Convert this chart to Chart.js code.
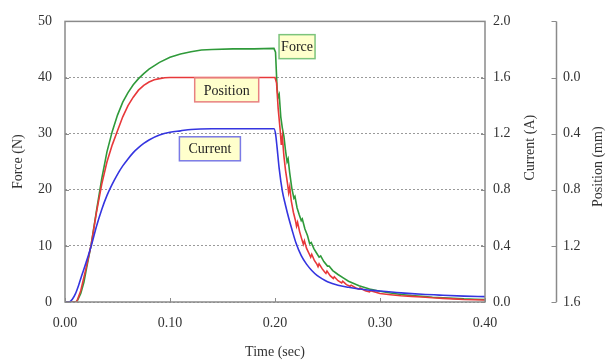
<!DOCTYPE html>
<html>
<head>
<meta charset="utf-8">
<script src="https://cdn.jsdelivr.net/npm/chart.js@4.4.1/dist/chart.umd.min.js"></script>
<style>html,body{margin:0;padding:0;background:#fff}</style>
</head>
<body>
<canvas id="chart" width="608" height="361"></canvas>
<script>
// time (sec) / force (N)
const forceTime = [0, 0.010, 0.012, 0.015, 0.018, 0.020, 0.025, 0.030, 0.035, 0.040, 0.045, 0.050, 0.055, 0.060, 0.065, 0.070, 0.075, 0.080, 0.090, 0.100, 0.110, 0.120, 0.130, 0.140, 0.160, 0.180, 0.199,
  0.2005, 0.2020, 0.2030, 0.2040, 0.2055, 0.2070, 0.2085, 0.2100, 0.2115, 0.2125, 0.2140, 0.2160, 0.2180, 0.2190, 0.2210, 0.2230, 0.2250, 0.2260, 0.2285, 0.2310, 0.2330, 0.2345, 0.2370, 0.2400, 0.2420, 0.2435, 0.2465, 0.2500, 0.2515, 0.2550, 0.2600, 0.2650, 0.2700, 0.2750, 0.2800, 0.2900, 0.3000, 0.3100, 0.3200, 0.3300, 0.3400, 0.3500, 0.3600, 0.3700, 0.3800, 0.3900, 0.4000];
const forceN = [0, 0, 0.3, 1.5, 3.5, 5.5, 10.3, 16.3, 22.0, 26.8, 30.4, 33.3, 35.6, 37.3, 38.7, 39.8, 40.7, 41.5, 42.7, 43.6, 44.2, 44.6, 44.9, 45.0, 45.1, 45.1, 45.2,
  44.5, 38.0, 36.5, 37.0, 33.0, 31.0, 29.5, 27.0, 25.0, 25.5, 23.0, 20.3, 18.5, 18.8, 16.8, 15.6, 14.5, 14.8, 13.0, 11.8, 10.4, 10.6, 9.5, 8.6, 8.0, 8.2, 7.2, 6.4, 6.4, 5.6, 4.9, 4.3, 3.7, 3.3, 2.9, 2.3, 1.9, 1.6, 1.35, 1.15, 1.0, 0.85, 0.75, 0.65, 0.55, 0.5, 0.45];

// time (sec) / position (mm)
const positionTime = [0, 0.011, 0.015, 0.020, 0.025, 0.030, 0.035, 0.040, 0.045, 0.050, 0.055, 0.060, 0.065, 0.070, 0.075, 0.080, 0.085, 0.090, 0.095, 0.100, 0.150, 0.2000,
  0.2015, 0.2030, 0.2050, 0.2060, 0.2070, 0.2085, 0.2100, 0.2120, 0.2130, 0.2140, 0.2155, 0.2175, 0.2195, 0.2205, 0.2215, 0.2235, 0.2255, 0.2270, 0.2280, 0.2300, 0.2325, 0.2340, 0.2350, 0.2375, 0.2400, 0.2410, 0.2420, 0.2450, 0.2475, 0.2485, 0.2495, 0.2525, 0.2555, 0.2565, 0.2600, 0.2635, 0.2645, 0.2680, 0.2715, 0.2725, 0.2770, 0.2800, 0.2810, 0.2860, 0.2900, 0.2910, 0.3000, 0.3100, 0.3200, 0.3300, 0.3400, 0.3500, 0.3600, 0.3700, 0.3800, 0.3900, 0.4000];
const positionMm = [1.60, 1.60, 1.52, 1.36, 1.19, 0.96, 0.76, 0.60, 0.48, 0.38, 0.28, 0.20, 0.14, 0.09, 0.056, 0.032, 0.016, 0.008, 0.002, 0, 0, 0,
  0.04, 0.22, 0.38, 0.48, 0.42, 0.56, 0.66, 0.76, 0.82, 0.78, 0.88, 0.96, 1.02, 1.06, 1.032, 1.10, 1.152, 1.188, 1.164, 1.216, 1.256, 1.28, 1.26, 1.304, 1.332, 1.348, 1.328, 1.364, 1.388, 1.396, 1.38, 1.412, 1.432, 1.42, 1.448, 1.464, 1.452, 1.476, 1.488, 1.48, 1.50, 1.508, 1.50, 1.52, 1.528, 1.52, 1.54, 1.548, 1.556, 1.56, 1.564, 1.57, 1.574, 1.578, 1.582, 1.584, 1.586];

// time (sec) / current (A)
const currentTime = [0, 0.004, 0.007, 0.010, 0.013, 0.016, 0.020, 0.025, 0.030, 0.035, 0.040, 0.045, 0.050, 0.055, 0.060, 0.065, 0.070, 0.075, 0.080, 0.090, 0.100, 0.110, 0.120, 0.140, 0.160, 0.180, 0.199,
  0.2005, 0.2020, 0.2040, 0.2070, 0.2100, 0.2130, 0.2160, 0.2200, 0.2250, 0.2300, 0.2350, 0.2400, 0.2450, 0.2500, 0.2600, 0.2700, 0.2800, 0.3000, 0.3200, 0.3400, 0.3600, 0.3800, 0.4000];
const currentA = [0, 0, 0.02, 0.06, 0.12, 0.19, 0.28, 0.40, 0.54, 0.66, 0.76, 0.84, 0.91, 0.97, 1.02, 1.065, 1.10, 1.13, 1.155, 1.19, 1.21, 1.22, 1.23, 1.235, 1.235, 1.235, 1.235,
  1.20, 1.10, 0.95, 0.79, 0.69, 0.60, 0.52, 0.42, 0.33, 0.27, 0.225, 0.19, 0.165, 0.145, 0.12, 0.105, 0.093, 0.078, 0.065, 0.055, 0.048, 0.042, 0.038];

// in-plot labels (anchored in time / force units)
const labelNames = ['Force', 'Position', 'Current'];
const labelTime = [0.221, 0.154, 0.138];
const labelForce = [45.5, 37.8, 27.3];

const timeTicks = [0, 0.1, 0.2, 0.3, 0.4];

const green = '#2f9a3a', red = '#e8383a', blue = '#3535e0';
const boxBorders = ['#7cc47c', '#e88080', '#7a7ae6'];
const boxWidths = [36, 64, 61];
const serif = '"Liberation Serif", "Times New Roman", serif';
const textColor = '#333';

const pts = (xs, ys) => xs.map((x, i) => ({ x: x, y: ys[i] }));

const decorations = {
  id: 'decorations',
  afterDraw(chart) {
    const ctx = chart.ctx, a = chart.chartArea, s = chart.scales;
    ctx.save();
    ctx.strokeStyle = '#8a8a8a';
    ctx.lineWidth = 1.5;
    ctx.strokeRect(a.left, a.top, a.right - a.left, a.bottom - a.top);

    ctx.lineWidth = 1;
    ctx.beginPath();
    s.x.ticks.forEach(t => { const p = Math.round(s.x.getPixelForValue(t.value)) + 0.5; ctx.moveTo(p, a.bottom); ctx.lineTo(p, a.bottom - 4); });
    s.y.ticks.forEach(t => { const p = Math.round(s.y.getPixelForValue(t.value)) + 0.5; ctx.moveTo(a.left, p); ctx.lineTo(a.left + 4, p); });
    s.y1.ticks.forEach(t => { const p = Math.round(s.y1.getPixelForValue(t.value)) + 0.5; ctx.moveTo(a.right, p); ctx.lineTo(a.right - 4, p); });
    const px = Math.round(s.y2.left) + 0.5;
    s.y2.ticks.forEach(t => { const p = Math.round(s.y2.getPixelForValue(t.value)) + 0.5; ctx.moveTo(px, p); ctx.lineTo(px - 5, p); });
    ctx.stroke();
    ctx.lineWidth = 1.5;
    ctx.beginPath();
    ctx.moveTo(px, a.top); ctx.lineTo(px, a.bottom);
    ctx.stroke();

    // right-hand axis titles, read bottom to top
    ctx.fillStyle = textColor;
    ctx.font = '14px ' + serif;
    ctx.textAlign = 'center';
    ctx.textBaseline = 'middle';
    const mid = (a.top + a.bottom) / 2;
    [['Current (A)', s.y1.right - 26, mid - 14], ['Position (mm)', s.y2.right - 10, mid + 5]].forEach(([txt, x, y]) => {
      ctx.save();
      ctx.translate(x, y);
      ctx.rotate(-Math.PI / 2);
      ctx.fillText(txt, 0, 0);
      ctx.restore();
    });

    // series name boxes
    labelNames.forEach((name, i) => {
      const cx = s.x.getPixelForValue(labelTime[i]);
      const cy = s.y.getPixelForValue(labelForce[i]);
      const w = boxWidths[i], h = 24;
      ctx.fillStyle = '#ffffcc';
      ctx.fillRect(cx - w / 2, cy - h / 2, w, h);
      ctx.strokeStyle = boxBorders[i];
      ctx.lineWidth = 1.5;
      ctx.strokeRect(cx - w / 2, cy - h / 2, w, h);
      ctx.fillStyle = '#222';
      ctx.fillText(name, cx, cy + 1);
    });
    ctx.restore();
  }
};

const tickFont = { family: serif, size: 14 };

new Chart(document.getElementById('chart'), {
  type: 'line',
  data: {
    datasets: [
      { label: 'Current', data: pts(currentTime, currentA), yAxisID: 'y1', borderColor: blue, borderWidth: 1.6, cubicInterpolationMode: 'monotone' },
      { label: 'Position', data: pts(positionTime, positionMm), yAxisID: 'y2', borderColor: red, borderWidth: 1.6 },
      { label: 'Force', data: pts(forceTime, forceN), yAxisID: 'y', borderColor: green, borderWidth: 1.6 }
    ]
  },
  options: {
    responsive: false,
    animation: false,
    elements: { point: { radius: 0 }, line: { tension: 0 } },
    layout: { padding: { top: 19, left: 0, right: 0, bottom: 0 } },
    plugins: { legend: { display: false }, tooltip: { enabled: false } },
    scales: {
      x: {
        type: 'linear', min: 0, max: 0.4,
        afterBuildTicks: sc => { sc.ticks = timeTicks.map(v => ({ value: v })); },
        afterFit: sc => { sc.height = 59; },
        grid: { display: false, drawTicks: false }, border: { display: false },
        ticks: { font: tickFont, color: textColor, padding: 13, maxRotation: 0, callback: v => v.toFixed(2) },
        title: { display: true, text: 'Time (sec)', font: tickFont, color: textColor, padding: { top: 3, bottom: 0 } }
      },
      y: {
        position: 'left', min: 0, max: 50,
        afterFit: sc => { sc.width = 65; },
        grid: { color: '#9a9a9a', lineWidth: 1, drawTicks: false },
        border: { display: false, dash: [2, 2] },
        ticks: { stepSize: 10, font: tickFont, color: textColor, padding: 13 },
        title: { display: true, text: 'Force (N)', font: tickFont, color: textColor, padding: { top: 10, bottom: 0 } }
      },
      y1: {
        position: 'right', min: 0, max: 2.0,
        afterFit: sc => { sc.width = 71; },
        grid: { display: false, drawTicks: false }, border: { display: false },
        ticks: { stepSize: 0.4, font: tickFont, color: textColor, padding: 8, callback: v => Math.abs(v).toFixed(1) }
      },
      y2: {
        position: 'right', min: -0.4, max: 1.6, reverse: true,
        afterFit: sc => { sc.width = 52; },
        grid: { display: false, drawTicks: false }, border: { display: false },
        ticks: { stepSize: 0.4, font: tickFont, color: textColor, padding: 7, callback: v => (v < -0.01 ? '' : Math.abs(v).toFixed(1)) }
      }
    }
  },
  plugins: [decorations]
});
</script>
</body>
</html>
